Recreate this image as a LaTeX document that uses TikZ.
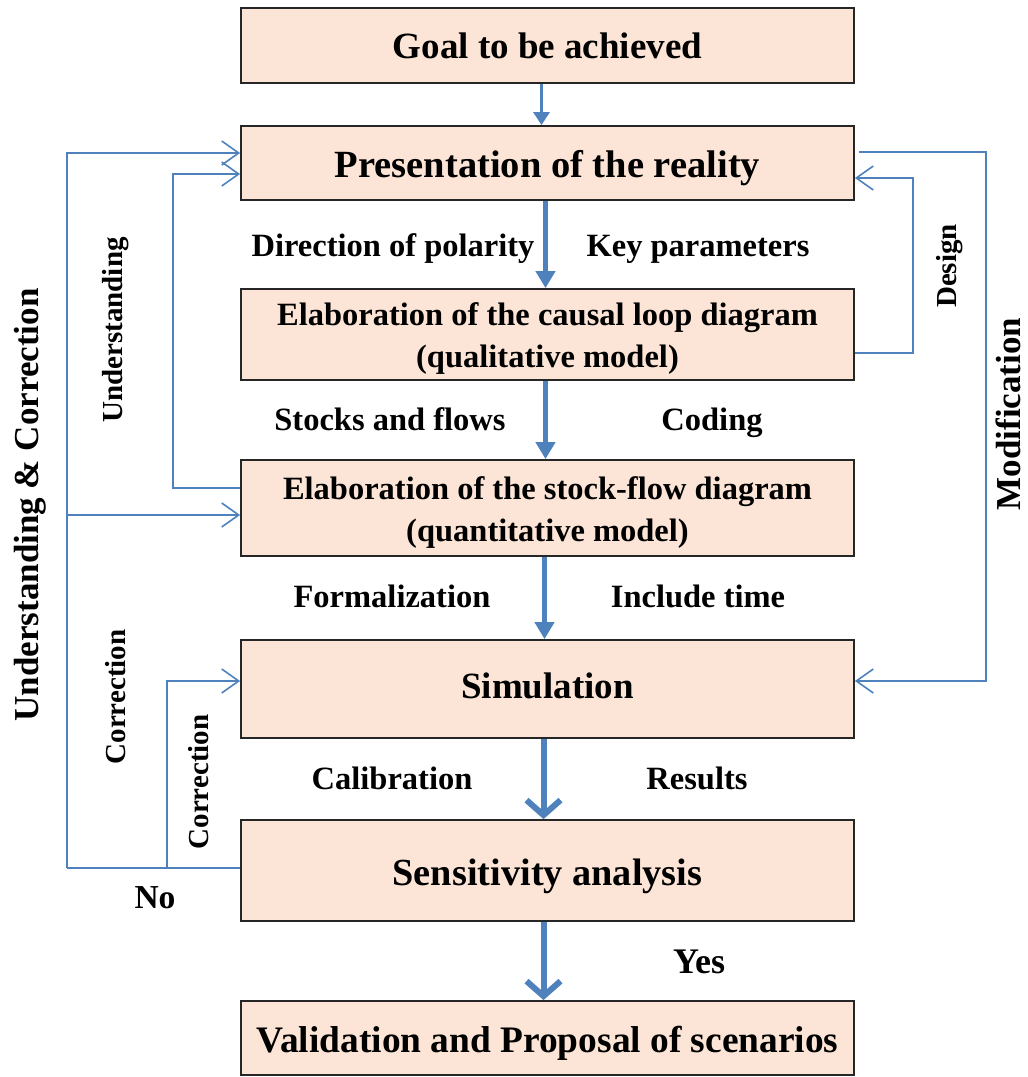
\documentclass[tikz,border=0pt]{standalone}
\usepackage{fontspec}
\setmainfont{Liberation Serif}
\usetikzlibrary{arrows.meta,calc}
\definecolor{boxfill}{RGB}{252,229,214}
\definecolor{lineblue}{RGB}{79,129,189}
\begin{document}
\begin{tikzpicture}[x=1pt,y=-1pt,
 box/.style={draw=black!85,line width=1.8pt,fill=boxfill,minimum width=613pt,inner sep=0pt},
 btext/.style={inner sep=0pt,align=center,font=\fontsize{37}{44}\selectfont\bfseries},
 btexttwo/.style={btext,font=\fontsize{32.5}{42}\selectfont\bfseries},
 lbl/.style={font=\fontsize{32.5}{36}\selectfont\bfseries,inner sep=0pt},
 vlbl/.style={font=\fontsize{29}{32}\selectfont\bfseries,inner sep=0pt,rotate=90},
 biglbl/.style={font=\fontsize{35}{38}\selectfont\bfseries,inner sep=0pt,rotate=90},
 fb/.style={draw=lineblue,line width=1.6pt},
 fbarrow/.style={fb,-{Straight Barb[length=17pt,width=24pt]}},
 mainthin/.style={draw=lineblue,line width=3pt,-{Triangle[length=13pt,width=16pt]}},
 main/.style={draw=lineblue,line width=5pt,-{Triangle[length=17pt,width=19pt]}},
 mainv/.style={draw=lineblue,line width=6pt,-{Straight Barb[length=15pt,width=34pt]}}
]
\useasboundingbox (0,0) rectangle (1028,1077);

% boxes
\node[box,minimum height=75pt] (goal) at (547.5,45.5) {};
\node[box,minimum height=74pt] (pres) at (547.5,163) {};
\node[box,minimum height=91pt] (causal) at (547.5,334.5) {};
\node[box,minimum height=96pt] (stock) at (547.5,508) {};
\node[box,minimum height=98pt] (sim) at (547.5,689) {};
\node[box,minimum height=101pt] (sens) at (547.5,870.5) {};
\node[box,minimum height=74pt] (valid) at (547.5,1038) {};

% box texts
\node[btext] (goalT) at (goal.center) {Goal to be achieved};
\node[btext,font=\fontsize{38.5}{44}\selectfont\bfseries,yshift=-5pt] (presT) at (pres.center) {Presentation of the reality};
\node[btexttwo,yshift=-4pt] (causalT) at (causal.center) {Elaboration of the causal loop diagram\\(qualitative model)};
\node[btexttwo,yshift=-5pt] (stockT) at (stock.center) {Elaboration of the stock-flow diagram\\(quantitative model)};
\node[btext,yshift=3pt] (simT) at (sim.center) {Simulation};
\node[btext,font=\fontsize{38.3}{44}\selectfont\bfseries,yshift=-6pt] (sensT) at (sens.center) {Sensitivity analysis};
\node[btext,font=\fontsize{37.4}{44}\selectfont\bfseries,yshift=-5pt] (validT) at (valid.center) {Validation and Proposal of scenarios};

% main arrows
\draw[mainthin] ($(goal.south)+(-6,0)$) -- ($(pres.north)+(-6,0)$);
\draw[main] ($(pres.south)+(-2,0)$) -- ($(causal.north)+(-2,0)$);
\draw[main] ($(causal.south)+(-2,0)$) -- ($(stock.north)+(-2,0)$);
\draw[main] ($(stock.south)+(-3,0)$) -- ($(sim.north)+(-3,0)$);
\draw[mainv] ($(sim.south)+(-4,0)$) -- ($(sens.north)+(-4,0)$);
\draw[mainv] ($(sens.south)+(-4,0)$) -- ($(valid.north)+(-4,0)$);

% labels between boxes
\node[lbl] (l1) at (393,249) {Direction of polarity};
\node[lbl] (l2) at (698,249) {Key parameters};
\node[lbl] (l3) at (390,419) {Stocks and flows};
\node[lbl] (l4) at (712,423) {Coding};
\node[lbl] (l5) at (392,596) {Formalization};
\node[lbl] (l6) at (698,596) {Include time};
\node[lbl] (l7) at (392,778) {Calibration};
\node[lbl] (l8) at (697,778) {Results};
\node[lbl,font=\fontsize{36}{40}\selectfont\bfseries] (yes) at (699,962) {Yes};
\node[lbl,font=\fontsize{33.5}{36}\selectfont\bfseries] (no) at (155,898) {No};

% feedback coordinates
\coordinate (ucB) at (67,868);
\coordinate (ucT) at (67,153);
\coordinate (ucM) at (67,515);
\coordinate (coB) at (167,868);
\coordinate (coT) at (167,681);
\coordinate (unB) at (173,488);
\coordinate (unT) at (173,174);
\coordinate (deB) at (913,353);
\coordinate (deT) at (913,178);
\coordinate (moT) at (986,152);
\coordinate (moB) at (986,681);

% left feedback loops
\draw[fb] (sens.west |- ucB) -- (ucB);
\draw[fbarrow] (ucB) -- (ucT) -- (pres.west |- ucT);
\draw[fbarrow] (ucM) -- (stock.west |- ucM);
\draw[fbarrow] (coB) -- (coT) -- (sim.west |- coT);
\draw[fbarrow] (stock.west |- unB) -- (unB) -- (unT) -- (pres.west |- unT);

% right feedback loops
\draw[fbarrow] (causal.east |- deB) -- (deB) -- (deT) -- (pres.east |- deT);
\draw[fbarrow] ($(pres.east |- moT)+(4,0)$) -- (moT) -- (moB) -- (sim.east |- moB);

% vertical labels
\node[biglbl] (uc) at (30,505) {Understanding \& Correction};
\node[vlbl] (und) at (116,330) {Understanding};
\node[vlbl] (cor1) at (116,697) {Correction};
\node[vlbl] (cor2) at (199,782) {Correction};
\node[vlbl] (des) at (950,266) {Design};
\node[biglbl] (mod) at (1008,414) {Modification};
\end{tikzpicture}
\end{document}
